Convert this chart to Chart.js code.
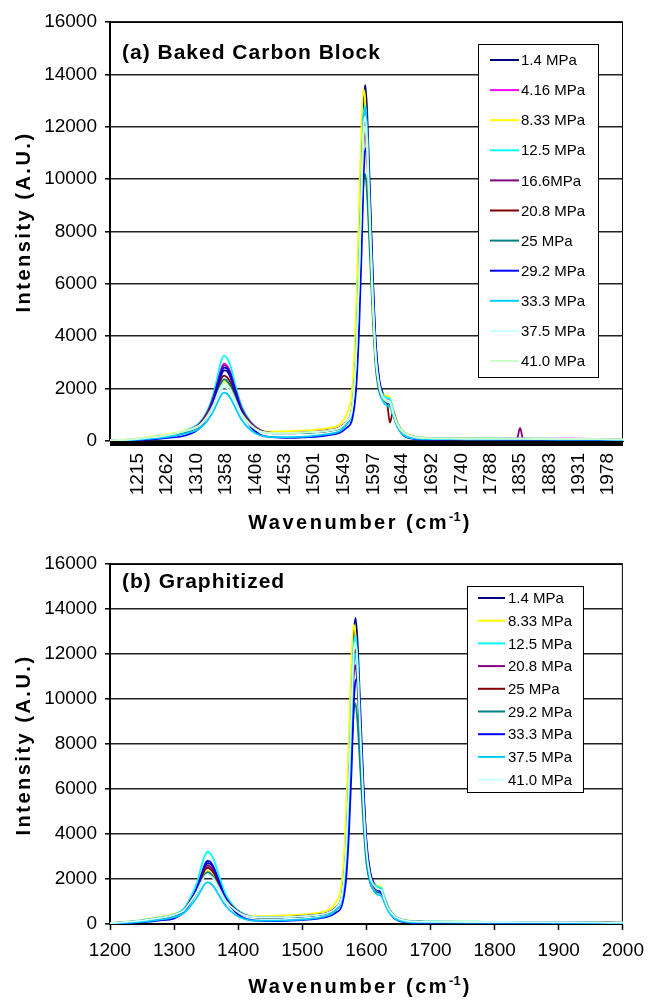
<!DOCTYPE html>
<html><head><meta charset="utf-8">
<script src="https://cdn.jsdelivr.net/npm/chart.js@4.4.1/dist/chart.umd.min.js"></script>
<style>
html,body{margin:0;padding:0;background:#fff;}
#wrap{position:relative;width:653px;height:1002px;overflow:hidden;background:#fff;}
#ca{position:absolute;left:0;top:0;}
#cb{position:absolute;left:0;top:540px;}
</style></head><body>
<div id="wrap"><canvas id="ca" width="653" height="540"></canvas><canvas id="cb" width="653" height="462"></canvas></div>
<script>
const FONT = '"Liberation Sans", Arial, sans-serif';

// ---------- Panel (a): Baked Carbon Block ----------
const wavenumbersA = [1170,1200,1230,1260,1290,1315,1328,1338,1345,1351,1355,1359,1365,1373,1383,1398,1413,1433,1463,1493,1523,1543,1553,1563,1569,1574,1578,1581,1584,1587,1591,1596,1601,1607,1613,1619,1624,1629,1636,1646,1663,1683,1723,1773,1830,1835,1840,1873,1923,1963,2002];
const tickLabelsA = [1215,1262,1310,1358,1406,1453,1501,1549,1597,1644,1692,1740,1788,1835,1883,1931,1978];
const seriesNamesA = ['1.4 MPa','4.16 MPa','8.33 MPa','12.5 MPa','16.6MPa','20.8 MPa','25 MPa','29.2 MPa','33.3 MPa','37.5 MPa','41.0 MPa'];
const colorsA = ['#000080','#FF00FF','#FFFF00','#00FFFF','#800080','#800000','#008080','#0000FF','#00CCFF','#CCFFFF','#CCFFCC'];
const a_1_4  = [10,40,100,180,330, 580,1000,1550,2100,2550,2700,2680,2450,1900,1250,700,420,320,310,330,390,500, 720,1250,2900,6100,9800,12700,13600,12600,9900,6400,3700,2300,1800,1650,1550,1200,700,340, 170,110,100,90, 85,85,85, 80,70,60,50];
const a_4_16 = [15,50,120,210,360, 640,1100,1700,2300,2800,2950,2900,2650,2050,1300,720,430,330,330,360,420,530, 740,1330,3200,6500,9800,12100,12600,11600,9000,5700,3300,2100,1700,1600,1550,1150,660,330, 170,120,110,100, 95,100,95, 90,90,80,70];
const a_8_33 = [20,60,140,240,400, 650,1000,1450,1880,2200,2300,2260,2060,1620,1080,640,420,360,380,410,490,640, 980,2050,4900,9000,12200,13450,12900,10900,7900,4900,2950,2050,1780,1720,1650,1200,700,350, 180,130,110,100, 90,90,90, 85,80,70,60];
const a_12_5 = [10,50,120,210,380, 690,1170,1830,2540,3100,3250,3200,2900,2180,1370,730,420,310,300,320,390,500, 720,1350,3300,6700,10100,12300,12800,11800,9200,5800,3400,2150,1750,1650,1600,1200,680,330, 170,120,110,100, 90,90,90, 90,80,70,60];
const a_16_6 = [10,40,110,200,350, 650,1100,1700,2280,2750,2900,2850,2600,2000,1280,700,420,310,300,330,390,500, 700,1280,3100,6200,9300,11300,11800,10900,8500,5400,3150,2000,1650,1500,1450,1100,620,310, 150,100,90,80, 80,500,80, 70,70,60,50];
const a_20_8 = [10,40,100,190,340, 600,1000,1500,2000,2400,2500,2450,2250,1750,1150,650,400,300,300,330,400,510, 730,1320,3200,6400,9700,11800,12300,11300,8800,5500,3200,2050,1650,1500,700,1100,630,310, 150,100,90,80, 80,80,80, 70,70,60,50];
const a_25   = [10,40,100,180,330, 580,940,1430,1890,2250,2350,2310,2110,1650,1090,620,380,290,290,320,380,480, 690,1180,2700,5400,8100,9800,10200,9400,7400,4800,2800,1850,1550,1450,1400,1050,590,290, 140,100,90,80, 70,70,70, 70,60,60,50];
const a_29_2 = [0,20,50,110,200, 480,950,1550,2150,2650,2800,2780,2500,1900,1150,550,250,150,120,150,220,320, 490,850,1950,4300,7200,9900,11100,11200,9600,6400,3700,2250,1700,1500,1400,1050,560,220, 80,50,60,60, 50,50,50, 50,50,40,40];
const a_33_3 = [10,30,80,150,270, 480,780,1150,1500,1780,1850,1820,1650,1280,820,420,220,150,150,180,260,380, 610,1250,3150,6550,9950,12150,12700,11750,9100,5700,3250,2000,1500,1350,1300,980,540,230, 100,70,70,60, 60,60,60, 60,50,50,40];
const a_37_5 = [20,50,120,210,370, 580,920,1330,1720,1980,2050,2020,1870,1480,1000,590,370,300,300,330,390,500, 720,1320,3250,6500,9800,11900,12400,11400,8800,5600,3250,2100,1700,1550,1500,1120,640,320, 160,110,100,90, 90,90,90, 80,80,70,60];
const a_41_0 = [20,60,130,220,380, 600,960,1400,1820,2120,2200,2160,2000,1580,1060,620,380,310,310,340,400,510, 730,1300,3150,6300,9500,11550,12000,11050,8550,5400,3150,2050,1650,1500,1450,1100,630,320, 160,110,100,90, 90,90,90, 80,80,70,60];
const valuesA = [a_1_4,a_4_16,a_8_33,a_12_5,a_16_6,a_20_8,a_25,a_29_2,a_33_3,a_37_5,a_41_0];

// ---------- Panel (b): Graphitized ----------
const wavenumbersB = [1200,1225,1250,1275,1300,1315,1325,1335,1342,1348,1352,1356,1362,1370,1380,1395,1410,1430,1460,1490,1520,1540,1552,1562,1568,1573,1577,1580,1583,1586,1590,1595,1600,1606,1612,1618,1623,1628,1635,1645,1660,1680,1720,1770,1820,1870,1920,1960,2000];
const tickLabelsB = [1200,1300,1400,1500,1600,1700,1800,1900,2000];
const seriesNamesB = ['1.4 MPa','8.33 MPa','12.5 MPa','20.8 MPa','25 MPa','29.2 MPa','33.3 MPa','37.5 MPa','41.0 MPa'];
const colorsB = ['#000080','#FFFF00','#00FFFF','#800080','#800000','#008080','#0000FF','#00CCFF','#CCFFFF'];
const b_1_4  = [40,70,140,240,380, 580,1000,1550,2100,2550,2700,2680,2450,1900,1250,700,420,320,310,330,390,500, 720,1250,2900,6100,9800,12700,13600,12600,9900,6400,3700,2300,1800,1650,1550,1200,700,340, 170,110,100,90,85,80,70,60,50];
const b_8_33 = [50,100,180,300,450, 650,1000,1450,1900,2250,2350,2300,2100,1650,1100,650,420,350,370,400,480,620, 950,2000,4800,8800,12000,13300,12800,10800,7800,4800,2900,2000,1750,1700,1650,1200,700,350, 180,130,110,100,90,85,80,70,60];
const b_12_5 = [40,90,170,280,430, 680,1150,1800,2500,3050,3200,3150,2850,2150,1350,720,420,310,300,320,390,500, 720,1350,3300,6700,10100,12300,12800,11800,9200,5800,3400,2150,1750,1650,1600,1200,680,330, 170,120,110,100,90,90,80,70,60];
const b_20_8 = [30,80,150,250,400, 610,1020,1550,2080,2480,2600,2550,2330,1800,1180,660,400,300,300,330,390,500, 700,1250,3000,6000,9100,11000,11500,10600,8300,5300,3100,2000,1650,1500,1450,1100,620,310, 150,100,90,80,80,70,70,60,50];
const b_25   = [30,80,150,250,400, 600,1000,1500,2000,2400,2500,2450,2250,1750,1150,650,400,300,300,330,400,510, 730,1320,3200,6400,9600,11700,12200,11200,8700,5500,3200,2050,1650,1500,1450,1100,630,310, 150,100,90,80,80,70,70,60,50];
const b_29_2 = [30,70,140,240,380, 570,920,1400,1850,2200,2300,2260,2070,1620,1070,610,380,290,290,320,380,480, 680,1150,2600,5200,7800,9400,9800,9000,7100,4600,2700,1800,1500,1400,1350,1000,570,290, 140,100,90,80,70,70,60,60,50];
const b_33_3 = [20,40,80,150,250, 500,950,1550,2150,2650,2800,2780,2500,1900,1150,550,250,150,130,160,230,330, 500,850,1900,4200,7000,9600,10800,10900,9300,6200,3600,2200,1700,1500,1400,1050,560,220, 80,50,60,60,50,50,50,40,40];
const b_37_5 = [20,50,100,180,300, 480,780,1150,1500,1780,1850,1820,1650,1280,820,420,220,150,150,180,260,380, 600,1200,3000,6200,9400,11500,12000,11100,8600,5400,3100,1900,1450,1300,1250,950,520,230, 100,70,70,60,60,60,50,50,40];
const b_41_0 = [40,90,160,260,410, 600,960,1400,1820,2120,2200,2160,2000,1580,1060,620,380,300,300,330,390,500, 720,1330,3300,6600,9900,12000,12500,11500,8900,5600,3300,2100,1700,1550,1500,1120,640,320, 160,110,100,90,90,80,80,70,60];
const valuesB = [b_1_4,b_8_33,b_12_5,b_20_8,b_25,b_29_2,b_33_3,b_37_5,b_41_0];

const yTicks = [0,2000,4000,6000,8000,10000,12000,14000,16000];

function buildDatasets(names, colors, wn, values){
  const n = names.length;
  return names.map((name, i) => ({
    label: name,
    data: values[i].map((v, k) => ({x: wn[k], y: v})),
    borderColor: colors[i],
    backgroundColor: colors[i],
    borderWidth: 1.8,
    pointRadius: 0,
    cubicInterpolationMode: 'monotone',
    fill: false,
    order: n - i
  }));
}

function decor(o){
  return {
    id: 'decor',
    beforeDatasetsDraw(chart){
      const {ctx, chartArea: a} = chart;
      ctx.save();
      ctx.strokeStyle = '#000'; ctx.lineWidth = 1;
      ctx.beginPath();
      ctx.moveTo(a.left, a.top + 0.5);
      ctx.lineTo(a.right - 0.5, a.top + 0.5);
      ctx.lineTo(a.right - 0.5, a.bottom);
      ctx.stroke();
      ctx.restore();
    },
    afterDraw(chart){
      const {ctx, chartArea: a} = chart;
      ctx.save();
      if (o.band) { ctx.fillStyle = '#000'; ctx.fillRect(a.left, a.bottom, a.right - a.left, o.band); }
      ctx.fillStyle = '#000';
      ctx.textAlign = 'left'; ctx.textBaseline = 'alphabetic';
      // panel title
      ctx.font = 'bold 21px ' + FONT; ctx.letterSpacing = '1px';
      ctx.fillText(o.title, a.left + 12, a.top + o.titleDy);
      // y title
      ctx.font = 'bold 20px ' + FONT; ctx.letterSpacing = '2.5px';
      ctx.save();
      ctx.translate(24, o.yTitleY);
      ctx.rotate(-Math.PI / 2);
      ctx.textAlign = 'center'; ctx.textBaseline = 'middle';
      ctx.fillText('Intensity (A.U.)', 0, 0);
      ctx.restore();
      // x title with superscript
      const p1 = 'Wavenumber (cm', sup = '-1', p2 = ')';
      ctx.font = 'bold 20px ' + FONT; ctx.letterSpacing = '2.5px';
      const w1 = ctx.measureText(p1).width, w3 = ctx.measureText(p2).width;
      ctx.font = 'bold 13px ' + FONT; ctx.letterSpacing = '0px';
      const w2 = ctx.measureText(sup).width + 2;
      let x = 360 - (w1 + w2 + w3) / 2;
      ctx.font = 'bold 20px ' + FONT; ctx.letterSpacing = '2.5px';
      ctx.fillText(p1, x, o.xTitleY);
      ctx.font = 'bold 13px ' + FONT; ctx.letterSpacing = '0px';
      ctx.fillText(sup, x + w1, o.xTitleY - 8);
      ctx.font = 'bold 20px ' + FONT; ctx.letterSpacing = '2.5px';
      ctx.fillText(p2, x + w1 + w2, o.xTitleY);
      // legend
      ctx.letterSpacing = '0px';
      const L = o.legend;
      ctx.fillStyle = '#fff';
      ctx.fillRect(L.x, L.y, L.w, L.h);
      ctx.strokeStyle = '#000'; ctx.lineWidth = 1;
      ctx.strokeRect(L.x + 0.5, L.y + 0.5, L.w, L.h);
      ctx.font = '15px ' + FONT; ctx.textBaseline = 'middle'; ctx.textAlign = 'left';
      chart.data.datasets.forEach((ds, i) => {
        const yy = L.y + L.first + i * L.step;
        ctx.strokeStyle = ds.borderColor; ctx.lineWidth = 2;
        ctx.beginPath(); ctx.moveTo(L.x + L.lx0, yy); ctx.lineTo(L.x + L.lx1, yy); ctx.stroke();
        ctx.fillStyle = '#000';
        ctx.fillText(ds.label, L.x + L.tx, yy + 1);
      });
      ctx.restore();
    }
  };
}

function yScale(){
  return {
    min: 0, max: 16000,
    afterBuildTicks: s => { s.ticks = yTicks.map(v => ({value: v})); },
    afterFit: s => { s.width = 110; },
    ticks: { color: '#000', font: {family: FONT, size: 19}, padding: 8, callback: v => String(v) },
    grid: { color: '#222', lineWidth: 1.6, tickLength: 5, tickColor: '#000', tickWidth: 1.5 },
    border: { display: true, color: '#000', width: 2 }
  };
}

new Chart(document.getElementById('ca'), {
  type: 'line',
  data: { datasets: buildDatasets(seriesNamesA, colorsA, wavenumbersA, valuesA) },
  options: {
    responsive: false, animation: false, devicePixelRatio: 1,
    layout: { padding: { top: 22, right: 30, left: 0, bottom: 0 } },
    plugins: { legend: {display: false}, tooltip: {enabled: false} },
    scales: {
      x: {
        type: 'linear', min: 1170, max: 2002,
        afterBuildTicks: s => { s.ticks = tickLabelsA.map(v => ({value: v})); },
        afterFit: s => { s.height = 99; },
        ticks: { color: '#000', font: {family: FONT, size: 19}, autoSkip: false, minRotation: 90, maxRotation: 90, padding: 4, callback: v => String(v) },
        grid: { drawOnChartArea: false, drawTicks: true, tickLength: 8, tickColor: 'rgba(0,0,0,0)' },
        border: { display: true, color: '#000', width: 1 }
      },
      y: yScale()
    }
  },
  plugins: [decor({ band: 5, title: '(a) Baked Carbon Block', titleDy: 37, yTitleY: 222, xTitleY: 529,
    legend: { x: 478, y: 44, w: 120, h: 333, first: 16, step: 30.1, lx0: 12, lx1: 41, tx: 43 } })]
});

new Chart(document.getElementById('cb'), {
  type: 'line',
  data: { datasets: buildDatasets(seriesNamesB, colorsB, wavenumbersB, valuesB) },
  options: {
    responsive: false, animation: false, devicePixelRatio: 1,
    layout: { padding: { top: 24, right: 30, left: 0, bottom: 0 } },
    plugins: { legend: {display: false}, tooltip: {enabled: false} },
    scales: {
      x: {
        type: 'linear', min: 1200, max: 2000,
        afterBuildTicks: s => { s.ticks = tickLabelsB.map(v => ({value: v})); },
        afterFit: s => { s.height = 78; },
        ticks: { color: '#000', font: {family: FONT, size: 19}, autoSkip: false, maxRotation: 0, padding: 9, callback: v => String(v) },
        grid: { drawOnChartArea: false, drawTicks: true, tickLength: 6, tickColor: '#000', tickWidth: 1.5 },
        border: { display: true, color: '#000', width: 2 }
      },
      y: yScale()
    }
  },
  plugins: [decor({ band: 0, title: '(b) Graphitized', titleDy: 24, yTitleY: 205, xTitleY: 453,
    legend: { x: 467, y: 46, w: 116, h: 206, first: 12, step: 22.7, lx0: 11, lx1: 38, tx: 41 } })]
});
</script>
</body></html>
